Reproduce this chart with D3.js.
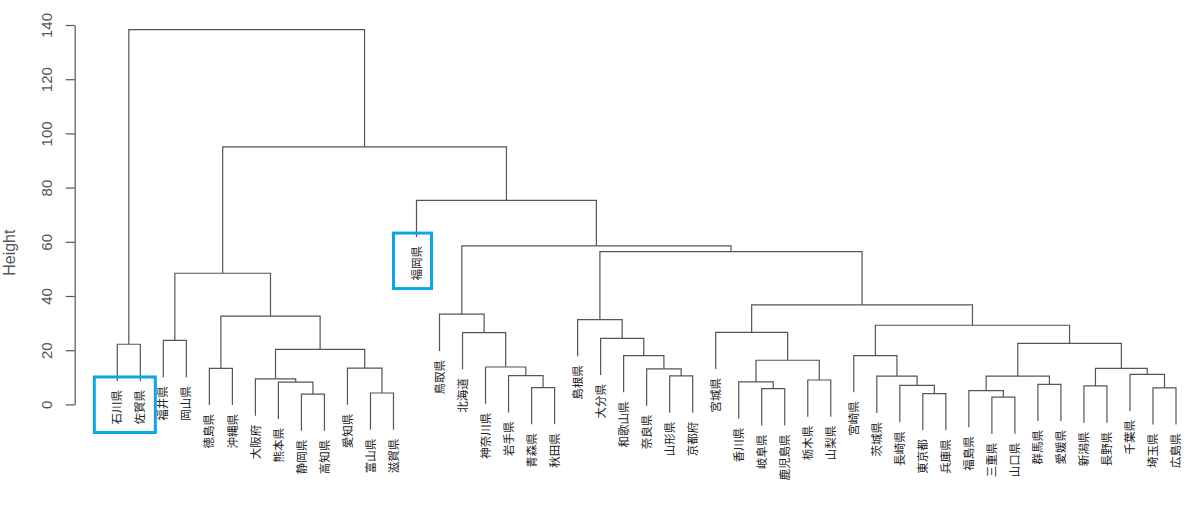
<!DOCTYPE html>
<html><head><meta charset="utf-8">
<script src="https://cdn.jsdelivr.net/npm/d3@7"></script>
<style>body{margin:0;background:#fff}svg{display:block}</style>
</head><body>
<svg id="c" width="1200" height="506"></svg>
<script>
// Leaf order (left to right)
const leaves = ["石川県","佐賀県","福井県","岡山県","徳島県","沖縄県","大阪府","熊本県","静岡県","高知県","愛知県","富山県","滋賀県",
  "福岡県","鳥取県","北海道","神奈川県","岩手県","青森県","秋田県","島根県","大分県","和歌山県","奈良県","山形県","京都府",
  "宮城県","香川県","岐阜県","鹿児島県","栃木県","山梨県","宮崎県","茨城県","長崎県","東京都","兵庫県","福島県","三重県","山口県",
  "群馬県","愛媛県","新潟県","長野県","千葉県","埼玉県","広島県"];
// Merge steps: [left, right, height]; string = leaf, number = earlier merge index
const merges = [
  ["三重県","山口県",2.7],   // 0
  ["静岡県","高知県",3.8],   // 1
  ["東京都","兵庫県",4.0],   // 2
  ["富山県","滋賀県",4.2],   // 3
  ["福島県",0,5.1],          // 4
  ["岐阜県","鹿児島県",5.8], // 5
  ["埼玉県","広島県",6.1],   // 6
  ["青森県","秋田県",6.2],   // 7
  ["新潟県","長野県",6.8],   // 8
  ["長崎県",2,7.0],          // 9
  ["群馬県","愛媛県",7.4],   // 10
  ["熊本県",1,8.2],          // 11
  ["香川県",5,8.3],          // 12
  ["栃木県","山梨県",9.0],   // 13
  ["大阪府",11,9.4],         // 14
  ["茨城県",9,10.4],         // 15
  [4,10,10.4],               // 16
  ["山形県","京都府",10.5],  // 17
  ["岩手県",7,10.6],         // 18
  ["千葉県",6,11.1],         // 19
  ["奈良県",17,13.1],        // 20
  ["徳島県","沖縄県",13.3],  // 21
  [8,19,13.3],               // 22
  ["愛知県",3,13.4],         // 23
  ["神奈川県",18,13.8],      // 24
  [12,13,16.3],              // 25
  ["和歌山県",20,18.0],      // 26
  ["宮崎県",15,18.0],        // 27
  [14,23,20.3],              // 28
  ["石川県","佐賀県",22.2],  // 29
  [16,22,22.5],              // 30
  ["福井県","岡山県",23.6],  // 31
  ["大分県",26,24.4],        // 32
  ["北海道",24,26.5],        // 33
  ["宮城県",25,26.6],        // 34
  [27,30,29.2],              // 35
  ["島根県",32,31.3],        // 36
  [21,28,32.6],              // 37
  ["鳥取県",33,33.3],        // 38
  [34,35,36.7],              // 39
  [31,37,48.4],              // 40
  [36,39,56.4],              // 41
  [38,41,58.5],              // 42
  ["福岡県",42,75.3],        // 43
  [40,43,95.0],              // 44
  [29,44,138.3]              // 45
];
const yTicks = [0,20,40,60,80,100,120,140];
const yTitle = "Height";
const highlighted = [["石川県","佐賀県"],["福岡県"]];

const svg = d3.select("#c");
const x = d3.scalePoint().domain(leaves).range([117.3, 1176]);
const y = d3.scaleLinear().domain([0,140]).range([404.4, 25]);
const hs = merges.map(m => m[2]);
const hang = 0.1 * (d3.max(hs) - d3.min(hs));

const nodeX = [];
const leafEndY = {};
const isLeaf = r => typeof r === "string";
const px = r => isLeaf(r) ? x(r) : nodeX[r];

const gl = svg.append("g").attr("fill","none").attr("stroke","#555").attr("stroke-width",1.2);
merges.forEach((m,i) => {
  const [a,b,h] = m;
  const xa = px(a), xb = px(b);
  nodeX[i] = (xa + xb) / 2;
  const ya = isLeaf(a) ? y(h - hang) : y(merges[a][2]);
  const yb = isLeaf(b) ? y(h - hang) : y(merges[b][2]);
  if (isLeaf(a)) leafEndY[a] = ya;
  if (isLeaf(b)) leafEndY[b] = yb;
  const p = d3.path();
  p.moveTo(xa, ya); p.lineTo(xa, y(h)); p.lineTo(xb, y(h)); p.lineTo(xb, yb);
  gl.append("path").attr("d", p.toString());
});

// leaf labels
const lab = svg.append("g").attr("font-family","'Noto Sans CJK JP', sans-serif").attr("font-size",11.5).attr("fill","#222");
const labelBottom = {};
leaves.forEach(l => {
  const lx = x(l), ly = leafEndY[l] + 9;
  const t = lab.append("text").attr("x",lx).attr("y",ly).attr("dy","0.36em")
    .attr("text-anchor","end").attr("transform",`rotate(-90,${lx},${ly})`).text(l);
  labelBottom[l] = ly + t.node().getComputedTextLength();
});

// y axis
const ax = svg.append("g").attr("transform","translate(74.7,0)")
  .call(d3.axisLeft(y).tickValues(yTicks).tickSize(9).tickSizeOuter(0));
ax.select(".domain").attr("stroke","#555").attr("stroke-width",1.2);
ax.selectAll(".tick line").attr("stroke","#555").attr("stroke-width",1.2);
ax.selectAll(".tick text").attr("font-family","'Liberation Sans', Arial, sans-serif").attr("font-size",15)
  .attr("fill","#555").attr("transform","rotate(-90)").attr("x",0).attr("y",-28).attr("dy","0.35em")
  .attr("text-anchor","middle");

svg.append("text").attr("transform",`translate(15,${(y(0)+y(140))/2 + 38}) rotate(-90)`)
  .attr("text-anchor","middle").attr("font-family","'Liberation Sans', Arial, sans-serif")
  .attr("font-size",16).attr("fill","#555").text(yTitle);

// highlight boxes
highlighted.forEach(grp => {
  const x0 = x(grp[0]) - 23, x1 = x(grp[grp.length-1]) + 15;
  const top = d3.min(grp, l => leafEndY[l]) - 4;
  const bottom = d3.max(grp, l => labelBottom[l]) + 8;
  svg.append("rect").attr("x",x0).attr("y",top).attr("width",x1-x0).attr("height",bottom-top)
    .attr("fill","none").attr("stroke","#0ea5e4").attr("stroke-width",3);
});
</script>
</body></html>
